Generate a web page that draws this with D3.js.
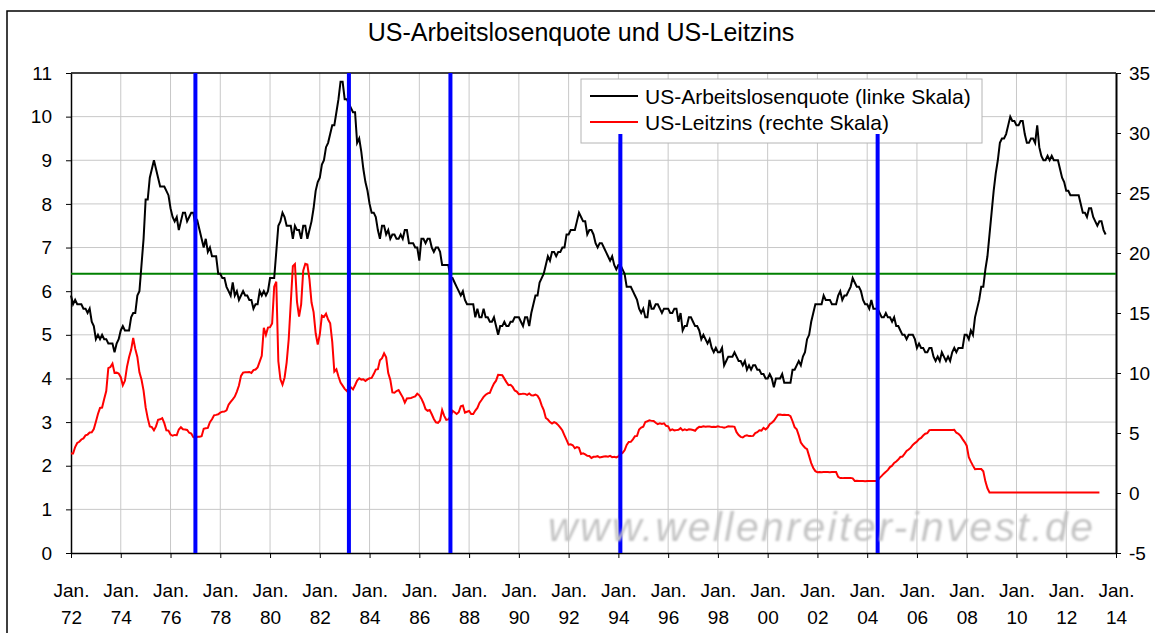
<!DOCTYPE html>
<html>
<head>
    <meta charset="utf-8">
    <title>US-Arbeitslosenquote und US-Leitzins</title>
    <script src="https://d3js.org/d3.v7.min.js"></script>
    <style>
        body { margin: 0; background: #fff; }
        svg text { font-family: "Liberation Sans", Arial, sans-serif; fill: #000; }
        .axis path, .axis line { stroke: #000; }
        .axis text { font-size: 19px; }
        .grid line { stroke: #c8c8c8; stroke-width: 1; }
    </style>
</head>
<body>
    <svg width="1155" height="633"></svg>
    <script>
        // monthly values starting Jan. 1972
        var startYear = 1972;

        var unemployment = [
            5.9, 5.7, 5.8, 5.7, 5.7, 5.7, 5.6, 5.6, 5.5, 5.6, 5.3, 5.2,
            4.9, 5.0, 4.9, 5.0, 4.9, 4.9, 4.8, 4.8, 4.8, 4.6, 4.8, 4.9,
            5.1, 5.2, 5.1, 5.1, 5.1, 5.4, 5.5, 5.5, 5.9, 6.0, 6.6, 7.2,
            8.1, 8.1, 8.6, 8.8, 9.0, 8.8, 8.6, 8.4, 8.4, 8.4, 8.3, 8.2,
            7.9, 7.7, 7.6, 7.7, 7.4, 7.6, 7.8, 7.8, 7.6, 7.7, 7.8, 7.8,
            7.5, 7.6, 7.4, 7.2, 7.0, 7.2, 6.9, 7.0, 6.8, 6.8, 6.8, 6.4,
            6.4, 6.3, 6.3, 6.1, 6.0, 5.9, 6.2, 5.9, 6.0, 5.8, 5.9, 6.0,
            5.9, 5.9, 5.8, 5.8, 5.6, 5.7, 5.7, 6.0, 5.9, 6.0, 5.9, 6.0,
            6.3, 6.3, 6.3, 6.9, 7.5, 7.6, 7.8, 7.7, 7.5, 7.5, 7.5, 7.2,
            7.5, 7.4, 7.4, 7.2, 7.5, 7.5, 7.2, 7.4, 7.6, 7.9, 8.3, 8.5,
            8.6, 8.9, 9.0, 9.3, 9.4, 9.6, 9.8, 9.8, 10.1, 10.4, 10.8, 10.8,
            10.4, 10.4, 10.3, 10.2, 10.1, 10.1, 9.4, 9.5, 9.2, 8.8, 8.5, 8.3,
            8.0, 7.8, 7.8, 7.7, 7.4, 7.2, 7.5, 7.5, 7.3, 7.4, 7.2, 7.3,
            7.3, 7.2, 7.2, 7.3, 7.2, 7.4, 7.4, 7.1, 7.1, 7.1, 7.0, 7.0,
            6.7, 7.2, 7.2, 7.1, 7.2, 7.2, 7.0, 6.9, 7.0, 7.0, 6.9, 6.6,
            6.6, 6.6, 6.6, 6.3, 6.3, 6.2, 6.1, 6.0, 5.9, 6.0, 5.8, 5.7,
            5.7, 5.7, 5.7, 5.4, 5.6, 5.4, 5.4, 5.6, 5.4, 5.4, 5.3, 5.3,
            5.4, 5.2, 5.0, 5.2, 5.2, 5.3, 5.2, 5.2, 5.3, 5.3, 5.4, 5.4,
            5.4, 5.3, 5.2, 5.4, 5.4, 5.2, 5.5, 5.7, 5.9, 5.9, 6.2, 6.3,
            6.4, 6.6, 6.8, 6.7, 6.9, 6.9, 6.8, 6.9, 6.9, 7.0, 7.0, 7.3,
            7.3, 7.4, 7.4, 7.4, 7.6, 7.8, 7.7, 7.6, 7.6, 7.3, 7.4, 7.4,
            7.3, 7.1, 7.0, 7.1, 7.1, 7.0, 6.9, 6.8, 6.7, 6.8, 6.6, 6.5,
            6.6, 6.6, 6.5, 6.4, 6.1, 6.1, 6.1, 6.0, 5.9, 5.8, 5.6, 5.5,
            5.6, 5.4, 5.4, 5.8, 5.6, 5.6, 5.7, 5.7, 5.6, 5.5, 5.6, 5.6,
            5.6, 5.5, 5.5, 5.6, 5.6, 5.3, 5.5, 5.1, 5.2, 5.2, 5.4, 5.4,
            5.3, 5.2, 5.2, 5.1, 4.9, 5.0, 4.9, 4.8, 4.9, 4.7, 4.6, 4.7,
            4.6, 4.6, 4.7, 4.3, 4.4, 4.5, 4.5, 4.5, 4.6, 4.5, 4.4, 4.4,
            4.3, 4.4, 4.2, 4.3, 4.2, 4.3, 4.3, 4.2, 4.2, 4.1, 4.1, 4.0,
            4.0, 4.1, 4.0, 3.8, 4.0, 4.0, 4.0, 4.1, 3.9, 3.9, 3.9, 3.9,
            4.2, 4.2, 4.3, 4.4, 4.3, 4.5, 4.6, 4.9, 5.0, 5.3, 5.5, 5.7,
            5.7, 5.7, 5.7, 5.9, 5.8, 5.8, 5.8, 5.7, 5.7, 5.7, 5.9, 6.0,
            5.8, 5.9, 5.9, 6.0, 6.1, 6.3, 6.2, 6.1, 6.1, 6.0, 5.8, 5.7,
            5.7, 5.6, 5.8, 5.6, 5.6, 5.6, 5.5, 5.4, 5.4, 5.5, 5.4, 5.4,
            5.3, 5.4, 5.2, 5.2, 5.1, 5.0, 5.0, 4.9, 5.0, 5.0, 5.0, 4.9,
            4.7, 4.8, 4.7, 4.7, 4.6, 4.6, 4.7, 4.7, 4.5, 4.4, 4.5, 4.4,
            4.6, 4.5, 4.4, 4.5, 4.4, 4.6, 4.7, 4.6, 4.7, 4.7, 4.7, 5.0,
            5.0, 4.9, 5.1, 5.0, 5.4, 5.6, 5.8, 6.1, 6.1, 6.5, 6.8, 7.3,
            7.8, 8.3, 8.7, 9.0, 9.4, 9.5, 9.5, 9.6, 9.8, 10.0, 9.9, 9.9,
            9.8, 9.8, 9.9, 9.9, 9.6, 9.4, 9.4, 9.5, 9.5, 9.4, 9.8, 9.3,
            9.1, 9.0, 9.0, 9.1, 9.0, 9.1, 9.0, 9.0, 9.0, 8.8, 8.6, 8.5,
            8.3, 8.3, 8.2, 8.2, 8.2, 8.2, 8.2, 8.0, 7.8, 7.8, 7.7, 7.9,
            7.9, 7.7, 7.6, 7.5, 7.6, 7.6, 7.4, 7.3
        ];

        var fedFunds = [
            3.29, 3.29, 3.83, 4.17, 4.27, 4.46, 4.55, 4.80, 4.87, 5.04, 5.06, 5.33,
            5.94, 6.58, 7.09, 7.12, 7.84, 8.49, 10.40, 10.50, 10.78, 10.01, 10.03, 9.95,
            9.65, 8.97, 9.35, 10.51, 11.31, 11.93, 12.92, 12.01, 11.34, 10.06, 9.45, 8.53,
            7.13, 6.24, 5.54, 5.49, 5.22, 5.55, 6.10, 6.14, 6.24, 5.82, 5.22, 5.20,
            4.87, 4.77, 4.84, 4.82, 5.29, 5.48, 5.31, 5.29, 5.25, 5.02, 4.95, 4.65,
            4.61, 4.68, 4.69, 4.73, 5.35, 5.39, 5.42, 5.90, 6.14, 6.47, 6.51, 6.56,
            6.70, 6.78, 6.79, 6.89, 7.36, 7.60, 7.81, 8.04, 8.45, 8.96, 9.76, 10.03,
            10.07, 10.06, 10.09, 10.01, 10.24, 10.29, 10.47, 10.94, 11.43, 13.77, 13.18, 13.78,
            13.82, 14.13, 17.19, 17.61, 10.98, 9.47, 9.03, 9.61, 10.87, 12.81, 15.85, 18.90,
            19.08, 15.93, 14.70, 15.72, 18.52, 19.10, 19.04, 17.82, 15.87, 15.08, 13.31, 12.37,
            13.22, 14.78, 14.68, 14.94, 14.45, 14.15, 12.59, 10.12, 10.31, 9.71, 9.20, 8.95,
            8.68, 8.51, 8.77, 8.80, 8.63, 8.98, 9.37, 9.56, 9.45, 9.48, 9.34, 9.47,
            9.56, 9.59, 9.91, 10.29, 10.32, 11.06, 11.23, 11.64, 11.30, 9.99, 9.43, 8.38,
            8.35, 8.50, 8.58, 8.27, 7.97, 7.53, 7.88, 7.90, 7.92, 7.99, 8.05, 8.27,
            8.14, 7.86, 7.48, 6.99, 6.85, 6.92, 6.56, 6.17, 5.89, 5.85, 6.04, 6.91,
            6.43, 6.10, 6.13, 6.37, 6.85, 6.73, 6.58, 6.73, 7.22, 7.29, 6.69, 6.77,
            6.83, 6.58, 6.58, 6.87, 7.09, 7.51, 7.75, 8.01, 8.19, 8.30, 8.35, 8.76,
            9.12, 9.36, 9.85, 9.84, 9.81, 9.53, 9.24, 8.99, 9.02, 8.84, 8.55, 8.45,
            8.23, 8.24, 8.28, 8.26, 8.18, 8.29, 8.15, 8.13, 8.20, 8.11, 7.81, 7.31,
            6.91, 6.25, 6.12, 5.91, 5.78, 5.90, 5.82, 5.66, 5.45, 5.21, 4.81, 4.43,
            4.03, 4.06, 3.98, 3.73, 3.82, 3.76, 3.25, 3.30, 3.22, 3.10, 3.09, 2.92,
            3.02, 3.03, 3.07, 2.96, 3.00, 3.04, 3.06, 3.03, 3.09, 2.99, 3.02, 2.96,
            3.05, 3.25, 3.34, 3.56, 4.01, 4.25, 4.26, 4.47, 4.73, 4.76, 5.29, 5.45,
            5.53, 5.92, 5.98, 6.05, 6.01, 6.00, 5.85, 5.74, 5.80, 5.76, 5.80, 5.60,
            5.56, 5.22, 5.31, 5.22, 5.24, 5.27, 5.40, 5.22, 5.30, 5.24, 5.31, 5.29,
            5.25, 5.19, 5.39, 5.51, 5.50, 5.56, 5.52, 5.54, 5.54, 5.50, 5.52, 5.50,
            5.56, 5.51, 5.49, 5.45, 5.49, 5.56, 5.54, 5.55, 5.51, 5.07, 4.83, 4.68,
            4.63, 4.76, 4.81, 4.74, 4.74, 4.76, 4.99, 5.07, 5.22, 5.20, 5.42, 5.30,
            5.45, 5.73, 5.85, 6.02, 6.27, 6.53, 6.54, 6.50, 6.52, 6.51, 6.51, 6.40,
            5.98, 5.49, 5.31, 4.80, 4.21, 3.97, 3.77, 3.65, 3.07, 2.49, 2.09, 1.82,
            1.73, 1.74, 1.73, 1.75, 1.75, 1.75, 1.73, 1.74, 1.75, 1.75, 1.34, 1.24,
            1.24, 1.26, 1.25, 1.26, 1.26, 1.22, 1.01, 1.03, 1.01, 1.01, 1.00, 0.98,
            1.00, 1.01, 1.00, 1.00, 1.00, 1.03, 1.26, 1.43, 1.61, 1.76, 1.93, 2.16,
            2.28, 2.50, 2.63, 2.79, 3.00, 3.04, 3.26, 3.50, 3.62, 3.78, 4.00, 4.16,
            4.29, 4.49, 4.59, 4.79, 4.94, 4.99, 5.24, 5.25, 5.25, 5.25, 5.25, 5.24,
            5.25, 5.26, 5.26, 5.25, 5.25, 5.25, 5.26, 5.02, 4.94, 4.76, 4.49, 4.24,
            3.94, 2.98, 2.61, 2.28, 1.98, 2.00, 2.01, 2.00, 1.81, 0.97, 0.39, 0.05,
            0.05, 0.05, 0.05, 0.05, 0.05, 0.05, 0.05, 0.05, 0.05, 0.05, 0.05, 0.05,
            0.05, 0.05, 0.05, 0.05, 0.05, 0.05, 0.05, 0.05, 0.05, 0.05, 0.05, 0.05,
            0.05, 0.05, 0.05, 0.05, 0.05, 0.05, 0.05, 0.05, 0.05, 0.05, 0.05, 0.05,
            0.05, 0.05, 0.05, 0.05, 0.05, 0.05, 0.05, 0.05, 0.05, 0.05, 0.05, 0.05,
            0.05, 0.05, 0.05, 0.05, 0.05
        ];

        // start of Fed tightening cycles (decimal year) and top of the marker line (left scale)
        var markerDates = [1977.0, 1983.17, 1987.25, 1994.08, 2004.42];
        var markerTops = [11, 11, 11, 9.6, 9.6];
        var thresholdLevel = 6.4;

        var leftTicks = [0, 1, 2, 3, 4, 5, 6, 7, 8, 9, 10, 11];
        var rightTicks = [-5, 0, 5, 10, 15, 20, 25, 30, 35];
        var yearTicks = d3.range(1972, 2015, 2);

        var seriesNames = ["US-Arbeitslosenquote (linke Skala)", "US-Leitzins (rechte Skala)"];
        var seriesColors = ["#000000", "#ff0000"];

        var svg = d3.select("svg"),
            margin = {top: 73, right: 39, bottom: 80, left: 71},
            width = +svg.attr("width") - margin.left - margin.right,
            height = +svg.attr("height") - margin.top - margin.bottom;

        var x = d3.scaleLinear().domain([1972, 2014]).range([0, width]);
        var yL = d3.scaleLinear().domain([0, 11]).range([height, 0]);
        var yR = d3.scaleLinear().domain([-5, 35]).range([height, 0]);

        // outer frame
        svg.append("rect")
            .attr("x", 7).attr("y", 11)
            .attr("width", 1160).attr("height", 640)
            .attr("fill", "none").attr("stroke", "#000").attr("stroke-width", 1.5);

        svg.append("text")
            .attr("x", 581).attr("y", 41)
            .attr("text-anchor", "middle")
            .style("font-size", "25px")
            .text("US-Arbeitslosenquote und US-Leitzins");

        var g = svg.append("g").attr("transform", "translate(" + margin.left + "," + margin.top + ")");

        // grid
        var grid = g.append("g").attr("class", "grid");
        grid.selectAll(".h").data(leftTicks.slice(1, -1)).enter().append("line")
            .attr("x1", 0).attr("x2", width)
            .attr("y1", d => yL(d)).attr("y2", d => yL(d));
        grid.selectAll(".v").data(yearTicks.slice(1, -1)).enter().append("line")
            .attr("x1", d => x(d)).attr("x2", d => x(d))
            .attr("y1", 0).attr("y2", height);

        // watermark
        var defs = svg.append("defs");
        defs.append("filter").attr("id", "soft")
            .append("feGaussianBlur").attr("stdDeviation", 0.9);
        svg.append("text")
            .attr("x", 548).attr("y", 541)
            .attr("textLength", 545)
            .attr("filter", "url(#soft)")
            .style("font-size", "41px")
            .style("font-style", "italic")
            .style("fill", "#c4c4c4")
            .text("www.wellenreiter-invest.de");

        // plot border top
        g.append("line")
            .attr("x1", 0).attr("x2", width).attr("y1", 0).attr("y2", 0)
            .attr("stroke", "#000").attr("stroke-width", 1.5);

        // axes
        g.append("g")
            .attr("class", "axis")
            .call(d3.axisLeft(yL).tickValues(leftTicks).tickSize(5).tickSizeOuter(0).tickPadding(14)
                .tickFormat(d => String(d)))
            .selectAll("path").attr("stroke-width", 1.5);

        g.append("g")
            .attr("class", "axis")
            .attr("transform", "translate(" + width + ",0)")
            .call(d3.axisRight(yR).tickValues(rightTicks).tickSize(5).tickSizeOuter(0).tickPadding(8)
                .tickFormat(d => String(d)))
            .selectAll("path").attr("stroke-width", 2);

        var xAxis = g.append("g")
            .attr("class", "axis")
            .attr("transform", "translate(0," + height + ")")
            .call(d3.axisBottom(x).tickValues(yearTicks).tickSize(5).tickSizeOuter(0).tickFormat(""));
        xAxis.select("path").attr("stroke-width", 1.5);
        xAxis.selectAll(".tick").append("text")
            .attr("text-anchor", "middle")
            .attr("y", 44)
            .text("Jan.");
        xAxis.selectAll(".tick").append("text")
            .attr("text-anchor", "middle")
            .attr("y", 71)
            .text(d => String(d % 100).padStart(2, "0"));

        // green threshold line
        g.append("line")
            .attr("x1", 0).attr("x2", width)
            .attr("y1", yL(thresholdLevel)).attr("y2", yL(thresholdLevel))
            .attr("stroke", "#008000").attr("stroke-width", 2);

        var toDate = i => startYear + i / 12;

        g.append("path")
            .datum(fedFunds)
            .attr("fill", "none")
            .attr("stroke", seriesColors[1])
            .attr("stroke-width", 2)
            .attr("d", d3.line().x((d, i) => x(toDate(i))).y(d => yR(d)));

        g.append("path")
            .datum(unemployment)
            .attr("fill", "none")
            .attr("stroke", seriesColors[0])
            .attr("stroke-width", 2)
            .attr("d", d3.line().x((d, i) => x(toDate(i))).y(d => yL(d)));

        // legend
        var legend = g.append("g").attr("transform", "translate(" + (581 - margin.left) + "," + (79 - margin.top) + ")");
        legend.append("rect")
            .attr("width", 401).attr("height", 64)
            .attr("fill", "#fff").attr("stroke", "#b4b4b4");
        var items = legend.selectAll(".item").data(seriesNames).enter().append("g")
            .attr("transform", (d, i) => "translate(0," + (17 + i * 26) + ")");
        items.append("line")
            .attr("x1", 9).attr("x2", 57)
            .attr("stroke", (d, i) => seriesColors[i]).attr("stroke-width", 2);
        items.append("text")
            .attr("x", 64).attr("dy", "0.36em")
            .style("font-size", "21px")
            .text(d => d);

        // blue markers
        g.selectAll(".marker").data(markerDates).enter().append("line")
            .attr("x1", d => x(d)).attr("x2", d => x(d))
            .attr("y1", (d, i) => yL(markerTops[i])).attr("y2", height)
            .attr("stroke", "#0000ff").attr("stroke-width", 4);
    </script>
</body>
</html>
